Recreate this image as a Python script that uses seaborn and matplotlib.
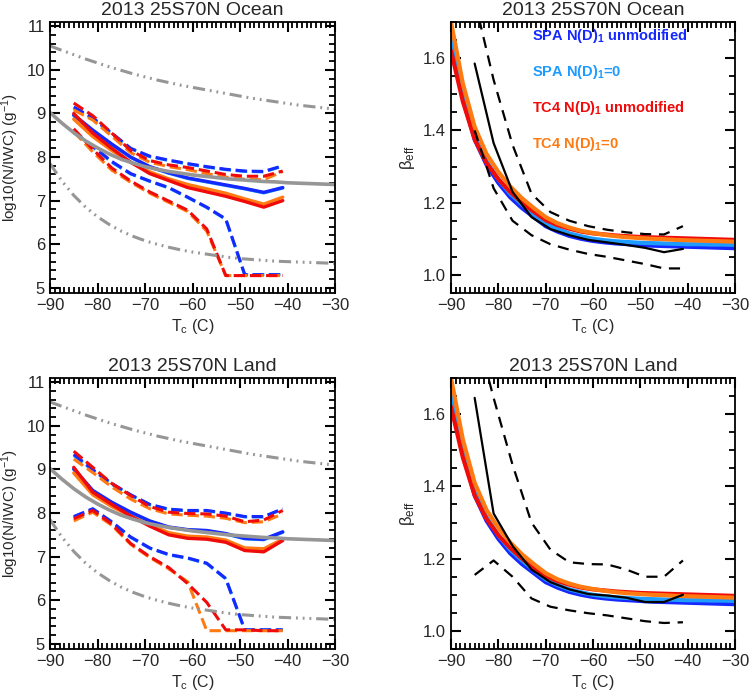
import numpy as np
import pandas as pd
import seaborn as sns
import matplotlib
matplotlib.use("Agg")
import matplotlib.pyplot as plt
from matplotlib.ticker import MultipleLocator, FormatStrFormatter

sns.set_style("ticks")
plt.rcParams['font.family'] = ['Liberation Sans', 'DejaVu Sans']
plt.rcParams['mathtext.default'] = 'regular'

# temperature bins of the binned statistics and grid of the fitted curves
T_bin = [-85, -81, -77, -73, -69, -65, -61, -57, -53, -49, -45, -41]
T_fit = [-90, -87.5, -85, -82.5, -80, -77.5, -75, -72.5, -70, -67.5, -65, -62.5, -60,
         -57.5, -55, -52.5, -50, -47.5, -45, -42.5, -40, -37.5, -35, -32.5, -30]

# gray reference curves (log10 N/IWC)
gray_mid = [9.02, 8.78, 8.56, 8.37, 8.21, 8.07, 7.95, 7.86, 7.78, 7.72, 7.67, 7.63, 7.59,
            7.56, 7.53, 7.50, 7.48, 7.46, 7.44, 7.43, 7.41, 7.40, 7.39, 7.38, 7.37]
gray_hi = [10.55, 10.45, 10.35, 10.25, 10.16, 10.07, 9.99, 9.91, 9.84, 9.77, 9.71, 9.65, 9.60,
           9.55, 9.50, 9.45, 9.40, 9.35, 9.31, 9.27, 9.23, 9.19, 9.16, 9.13, 9.10]
gray_lo = [7.85, 7.45, 7.12, 6.85, 6.63, 6.45, 6.30, 6.18, 6.08, 6.00, 5.93, 5.87, 5.82,
           5.78, 5.74, 5.70, 5.67, 5.65, 5.63, 5.61, 5.60, 5.59, 5.58, 5.57, 5.56]

# Ocean, log10(N/IWC): mean, upper and lower
oc_spa = [8.97, 8.62, 8.30, 8.00, 7.78, 7.64, 7.52, 7.44, 7.36, 7.28, 7.19, 7.30]
oc_spa0 = [8.95, 8.60, 8.28, 7.99, 7.77, 7.63, 7.51, 7.43, 7.35, 7.27, 7.18, 7.29]
oc_tc4 = [9.00, 8.55, 8.20, 7.88, 7.62, 7.46, 7.30, 7.20, 7.10, 6.98, 6.85, 7.00]
oc_tc40 = [8.87, 8.47, 8.15, 7.88, 7.66, 7.50, 7.37, 7.27, 7.17, 7.04, 6.92, 7.08]
oc_spa_hi = [9.15, 8.90, 8.55, 8.20, 8.02, 7.93, 7.85, 7.78, 7.72, 7.68, 7.67, 7.80]
oc_spa0_hi = [9.12, 8.88, 8.53, 8.19, 8.01, 7.92, 7.84, 7.77, 7.71, 7.67, 7.66, 7.79]
oc_tc4_hi = [9.24, 8.95, 8.55, 8.15, 7.92, 7.82, 7.76, 7.68, 7.60, 7.56, 7.56, 7.68]
oc_tc40_hi = [9.08, 8.85, 8.48, 8.10, 7.88, 7.78, 7.71, 7.62, 7.54, 7.49, 7.48, 7.67]
oc_spa_lo = [8.58, 8.25, 7.90, 7.62, 7.45, 7.30, 7.08, 6.85, 6.58, 5.30, 5.30, 5.30]
oc_spa0_lo = [8.56, 8.23, 7.88, 7.61, 7.44, 7.29, 7.07, 6.84, 6.57, 5.30, 5.30, 5.30]
oc_tc4_lo = [8.65, 8.18, 7.75, 7.45, 7.20, 6.99, 6.78, 6.35, 5.28, 5.28, 5.28, 5.28]
oc_tc40_lo = [8.58, 8.12, 7.70, 7.42, 7.17, 6.96, 6.75, 6.30, 5.28, 5.28, 5.28, 5.28]

# Land, log10(N/IWC)
ld_spa = [9.02, 8.52, 8.25, 8.02, 7.82, 7.68, 7.62, 7.60, 7.53, 7.42, 7.40, 7.57]
ld_spa0 = [9.00, 8.50, 8.23, 8.01, 7.81, 7.67, 7.61, 7.59, 7.52, 7.41, 7.39, 7.56]
ld_tc4 = [9.05, 8.48, 8.20, 7.93, 7.70, 7.50, 7.42, 7.40, 7.33, 7.14, 7.11, 7.37]
ld_tc40 = [8.92, 8.42, 8.15, 7.93, 7.73, 7.55, 7.47, 7.45, 7.38, 7.20, 7.18, 7.40]
ld_spa_hi = [9.35, 9.00, 8.68, 8.42, 8.20, 8.09, 8.06, 8.06, 8.00, 7.92, 7.92, 8.10]
ld_spa0_hi = [9.32, 8.98, 8.66, 8.41, 8.19, 8.08, 8.05, 8.05, 7.99, 7.91, 7.91, 8.09]
ld_tc4_hi = [9.42, 9.05, 8.68, 8.40, 8.15, 8.02, 7.99, 7.98, 7.93, 7.80, 7.84, 8.06]
ld_tc40_hi = [9.24, 8.93, 8.60, 8.32, 8.10, 7.98, 7.95, 7.93, 7.88, 7.78, 7.80, 7.98]
ld_spa_lo = [7.92, 8.10, 7.80, 7.45, 7.20, 7.05, 6.97, 6.85, 6.50, 5.32, 5.32, 5.32]
ld_spa0_lo = [7.90, 8.08, 7.78, 7.44, 7.19, 7.04, 6.96, 6.84, 6.49, 5.32, 5.32, 5.32]
ld_tc4_lo = [7.87, 8.06, 7.75, 7.30, 7.00, 6.75, 6.38, 5.95, 5.32, 5.32, 5.30, 5.30]
ld_tc40_lo = [7.82, 8.02, 7.72, 7.28, 6.98, 6.72, 6.42, 5.30, 5.30, 5.30, 5.30, 5.30]

# beta_eff fitted curves (same for both regions)
b_spa = [1.65, 1.49, 1.375, 1.305, 1.255, 1.215, 1.185, 1.16, 1.135, 1.12, 1.108, 1.10, 1.094,
         1.09, 1.087, 1.085, 1.083, 1.081, 1.08, 1.079, 1.078, 1.077, 1.076, 1.075, 1.074]
b_spa0 = [1.66, 1.50, 1.385, 1.315, 1.265, 1.225, 1.195, 1.168, 1.143, 1.127, 1.115, 1.107, 1.10,
          1.096, 1.093, 1.091, 1.089, 1.088, 1.087, 1.086, 1.085, 1.085, 1.084, 1.084, 1.083]
b_tc4 = [1.62, 1.48, 1.375, 1.31, 1.265, 1.23, 1.20, 1.175, 1.152, 1.138, 1.128, 1.12, 1.115,
         1.112, 1.109, 1.107, 1.105, 1.104, 1.103, 1.102, 1.101, 1.10, 1.099, 1.098, 1.097]
b_tc40 = [1.70, 1.53, 1.41, 1.335, 1.285, 1.245, 1.212, 1.185, 1.16, 1.143, 1.131, 1.122, 1.116,
          1.111, 1.107, 1.104, 1.102, 1.10, 1.099, 1.097, 1.096, 1.095, 1.094, 1.093, 1.092]

# observed beta_eff: mean and spread
oc_obs = [1.585, 1.365, 1.23, 1.16, 1.127, 1.11, 1.097, 1.09, 1.083, 1.075, 1.063, 1.072]
oc_obs_hi = [1.76, 1.54, 1.36, 1.225, 1.174, 1.15, 1.135, 1.125, 1.118, 1.113, 1.112, 1.135]
oc_obs_lo = [1.40, 1.24, 1.15, 1.11, 1.085, 1.07, 1.058, 1.05, 1.04, 1.03, 1.018, 1.018]
ld_obs = [1.645, 1.325, 1.235, 1.17, 1.135, 1.115, 1.102, 1.098, 1.092, 1.08, 1.08, 1.10]
ld_obs_hi = [1.845, 1.645, 1.46, 1.30, 1.225, 1.19, 1.185, 1.184, 1.17, 1.15, 1.15, 1.195]
ld_obs_lo = [1.155, 1.195, 1.15, 1.09, 1.067, 1.057, 1.049, 1.043, 1.035, 1.027, 1.022, 1.024]

labels = ['SPA N(D)$_1$ unmodified', 'SPA N(D)$_1$=0', 'TC4 N(D)$_1$ unmodified', 'TC4 N(D)$_1$=0']
colors = ['#1428ff', '#1e9bff', '#f00a0a', '#ff7a10']
gray = '#969696'
ddd = (0, (4, 1.6, 0.6, 1.6, 0.6, 1.6, 0.6, 1.6))
draw_order = [1, 0, 3, 2]  # light blue under blue, orange under red


def style_axes(ax, title, left):
    ax.set_xlim(-90, -30)
    ax.xaxis.set_major_locator(MultipleLocator(10))
    ax.xaxis.set_minor_locator(MultipleLocator(1))
    if left:
        ax.set_ylim(4.88, 11.1)
        ax.yaxis.set_major_locator(MultipleLocator(1))
        ax.yaxis.set_minor_locator(MultipleLocator(0.2))
        ax.set_ylabel('log10(N/IWC) (g$^{-1}$)', fontsize=11)
    else:
        ax.set_ylim(0.95, 1.7)
        ax.yaxis.set_major_locator(MultipleLocator(0.2))
        ax.yaxis.set_minor_locator(MultipleLocator(0.05))
        ax.yaxis.set_major_formatter(FormatStrFormatter('%.1f'))
        ax.set_ylabel(r'$\beta_{eff}$', fontsize=12)
    ax.set_xlabel('T$_c$ (C)', fontsize=11.5, labelpad=3)
    ax.set_title(title, fontsize=14, pad=5)
    ax.tick_params(which='both', direction='in', top=True, right=True, labelsize=12, color='black')
    ax.tick_params(which='major', length=7, width=1.5)
    ax.tick_params(which='minor', length=4, width=1.3)
    for s in ax.spines.values():
        s.set_linewidth(1.3)
        s.set_color('black')


def draw_nwc(ax, means, his, los):
    for i in draw_order:
        sns.lineplot(x=T_bin, y=his[i], ax=ax, color=colors[i], lw=2.2, linestyle='--', estimator=None, sort=False)
        sns.lineplot(x=T_bin, y=los[i], ax=ax, color=colors[i], lw=2.2, linestyle='--', estimator=None, sort=False)
    for i in draw_order:
        sns.lineplot(x=T_bin, y=means[i], ax=ax, color=colors[i], lw=2.4, estimator=None, sort=False)
    sns.lineplot(x=T_fit, y=gray_hi, ax=ax, color=gray, lw=2.2, linestyle=ddd, estimator=None, sort=False)
    sns.lineplot(x=T_fit, y=gray_lo, ax=ax, color=gray, lw=2.2, linestyle=ddd, estimator=None, sort=False)
    sns.lineplot(x=T_fit, y=gray_mid, ax=ax, color=gray, lw=2.6, estimator=None, sort=False)


def draw_beta(ax, obs, hi, lo, legend):
    for i, b in enumerate([b_spa, b_spa0, b_tc4, b_tc40]):
        sns.lineplot(x=T_fit, y=b, ax=ax, color=colors[i], lw=3, estimator=None, sort=False)
    sns.lineplot(x=T_bin, y=obs, ax=ax, color='black', lw=1.6, estimator=None, sort=False)
    sns.lineplot(x=T_bin, y=hi, ax=ax, color='black', lw=1.6, linestyle=(0, (5, 3.5)), estimator=None, sort=False)
    sns.lineplot(x=T_bin, y=lo, ax=ax, color='black', lw=1.6, linestyle=(0, (5, 3.5)), estimator=None, sort=False)
    if legend:
        for i, (lab, yy) in enumerate(zip(labels, [0.949, 0.817, 0.681, 0.55])):
            ax.text(0.284, yy, lab, color=colors[i], fontsize=10.5, fontweight='bold',
                    transform=ax.transAxes, va='center', ha='left')


fig = plt.figure(figsize=(7.5, 6.93), dpi=100)
W, H = 750, 693
ax1 = fig.add_axes([50 / W, (H - 293) / H, 285 / W, 271 / H])
ax2 = fig.add_axes([451 / W, (H - 293) / H, 284 / W, 271 / H])
ax3 = fig.add_axes([50 / W, (H - 649) / H, 285 / W, 271 / H])
ax4 = fig.add_axes([451 / W, (H - 649) / H, 284 / W, 271 / H])

draw_nwc(ax1, [oc_spa, oc_spa0, oc_tc4, oc_tc40], [oc_spa_hi, oc_spa0_hi, oc_tc4_hi, oc_tc40_hi],
         [oc_spa_lo, oc_spa0_lo, oc_tc4_lo, oc_tc40_lo])
draw_beta(ax2, oc_obs, oc_obs_hi, oc_obs_lo, True)
draw_nwc(ax3, [ld_spa, ld_spa0, ld_tc4, ld_tc40], [ld_spa_hi, ld_spa0_hi, ld_tc4_hi, ld_tc40_hi],
         [ld_spa_lo, ld_spa0_lo, ld_tc4_lo, ld_tc40_lo])
draw_beta(ax4, ld_obs, ld_obs_hi, ld_obs_lo, False)

style_axes(ax1, '2013 25S70N Ocean', True)
style_axes(ax2, '2013 25S70N Ocean', False)
style_axes(ax3, '2013 25S70N Land', True)
style_axes(ax4, '2013 25S70N Land', False)

fig.savefig('out.png', dpi=100, facecolor='white')
